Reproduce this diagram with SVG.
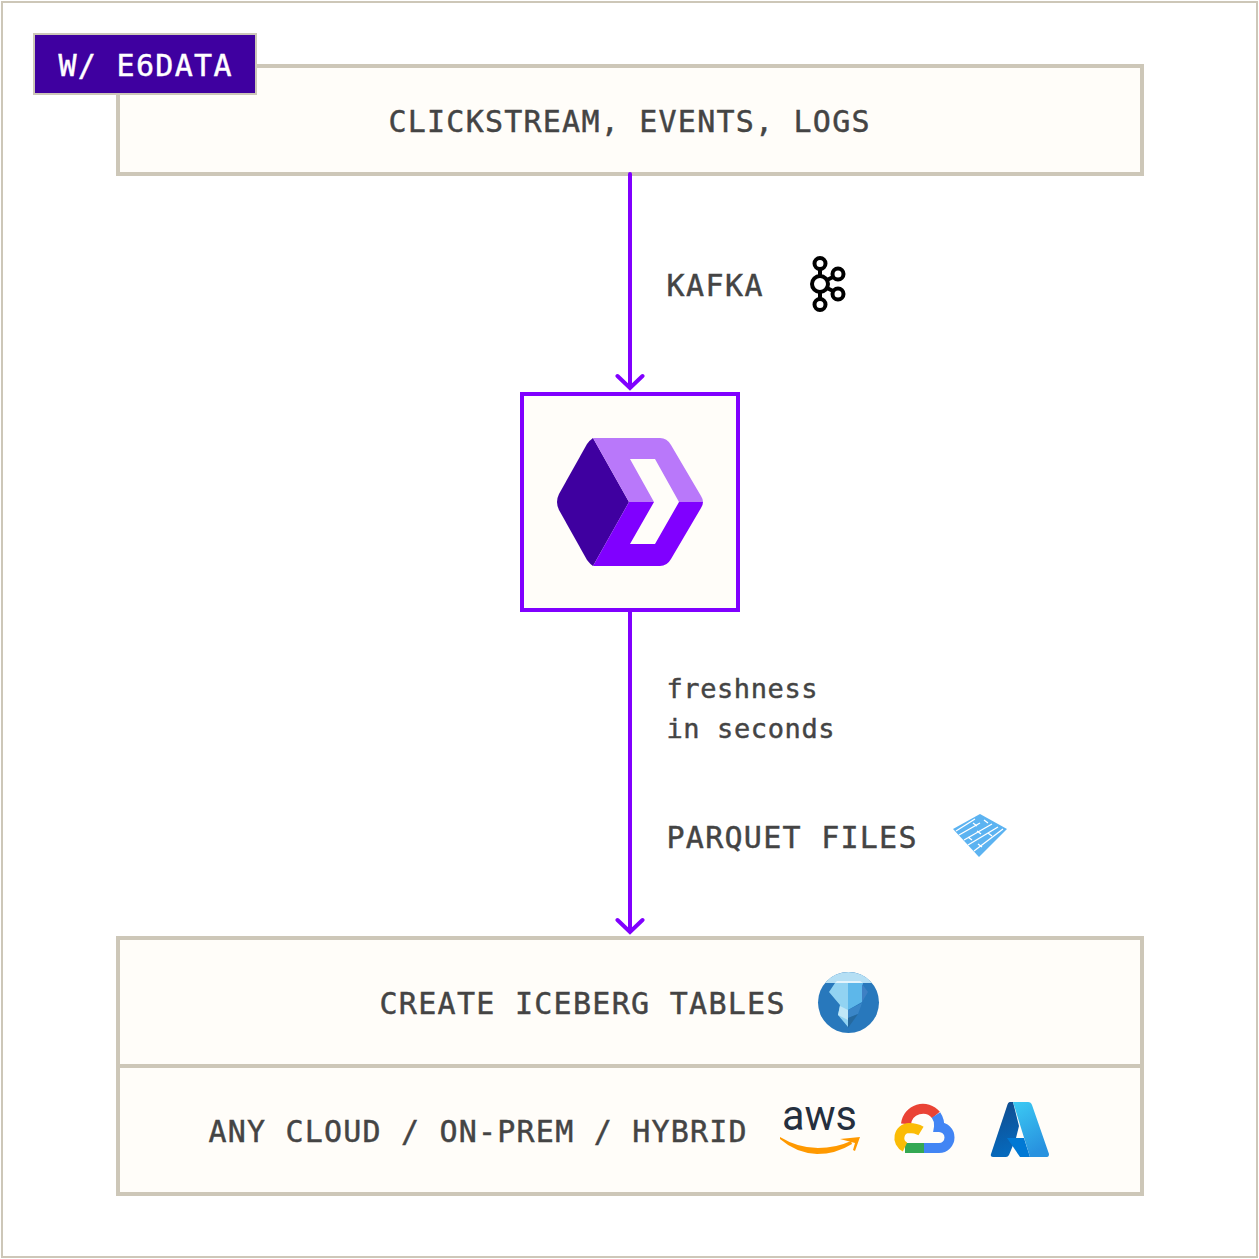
<svg xmlns="http://www.w3.org/2000/svg" width="1259" height="1259" viewBox="0 0 1259 1259">
<style>
.box{fill:#fffdf9;stroke:#cdc7b8;stroke-width:4}
.t{font-family:"DejaVu Sans Mono","Liberation Mono",monospace;fill:#444444;stroke:#444444;stroke-width:.45}
.l{font-size:30px}
.s{font-size:27px}
.w{fill:#fff;stroke:#fff}
.c{fill:none;stroke:#8000ff;stroke-width:4}
.k{fill:none;stroke:#000;stroke-width:4}
</style>
<defs>
<linearGradient id="az1" x1="0" y1="0" x2="0.2" y2="1"><stop offset="0" stop-color="#114a8b"/><stop offset="1" stop-color="#0669bc"/></linearGradient>
<linearGradient id="az2" x1="0" y1="0" x2="0.4" y2="1"><stop offset="0" stop-color="#3ccbf4"/><stop offset="1" stop-color="#2892df"/></linearGradient>
</defs>
<rect width="1259" height="1259" fill="#fff"/>
<rect x="2" y="2" width="1255" height="1255" fill="none" stroke="#cdc7b8" stroke-width="2"/>
<g id="source">
<rect class="box" x="118" y="66" width="1024" height="108"/>
<text class="t l" x="388.500" y="132" textLength="481">CLICKSTREAM, EVENTS, LOGS</text>
</g>
<g id="badge">
<rect x="34" y="34" width="222" height="60" fill="#3f00a0" stroke="#cdc7b8" stroke-width="2"/>
<text class="t l w" x="58.500" y="76" textLength="173">W/ E6DATA</text>
</g>
<g id="kafka-label">
<text class="t l" x="666.500" y="296" textLength="96">KAFKA</text>
<g id="kafka-icon">
<circle class="k" cx="820" cy="263.500" r="5.500"/><circle class="k" cx="820" cy="304.500" r="5.500"/>
<circle class="k" cx="820" cy="284" r="8"/>
<circle class="k" cx="838" cy="274" r="5.500"/><circle class="k" cx="838" cy="294" r="5.500"/>
<path class="k" d="M820 269V276M820 292V299M827 280L833 277M827 288L833 291"/>
</g>
</g>
<g id="e6data">
<rect x="522" y="394" width="216" height="216" fill="#fffdf9" stroke="#8000ff" stroke-width="4"/>
<path fill="#3f00a0" d="M593 438L629 502L593 566Q590 564 587 560L559 510Q555 502 559 494L587 444Q590 440 593 438Z"/>
<path fill="#b978fa" d="M593 438Q596 438 600 438H660Q667 438 671 445L701 496Q703 499 703 502H679L655 459H630L654 502H629Z"/>
<path fill="#8000ff" d="M593 566Q596 566 600 566H660Q667 566 671 559L701 508Q703 505 703 502H679L655 544H630L654 502H629Z"/>
</g>
<g id="freshness">
<text class="t s" x="666.500" y="698" textLength="151">freshness</text>
<text class="t s" x="666.500" y="738" textLength="168">in seconds</text>
</g>
<g id="parquet-label">
<text class="t l" x="666.500" y="848" textLength="250">PARQUET FILES</text>
<g id="parquet-icon">
<path fill="#5cb3f1" d="M953 829L980 814L1007 829L979 857Z"/>
<path stroke="#fff" stroke-width="1.300" fill="none" d="M956 831L975 819M959 835L980 823M964 840L992 824M968 845L998 827M974 851L1003 829M973 823L977 826M984 820L988 823M977 831L981 834M968 837L972 840M988 833L992 836M978 844L982 847"/>
</g>
</g>
<g id="bottom">
<rect class="box" x="118" y="938" width="1024" height="256"/>
<path stroke="#cdc7b8" stroke-width="4" d="M118 1066H1142"/>
</g>
<g id="iceberg">
<text class="t l" x="379.500" y="1014" textLength="405">CREATE ICEBERG TABLES</text>
<g id="iceberg-icon">
<circle cx="848.500" cy="1002.500" r="30.500" fill="#2878bc"/>
<path fill="#b5dff4" d="M825 983A30.500 30.500 0 0 1 872 983Z"/>
<path fill="#e4f4fc" d="M835 983L837 981H860L863 983Z"/>
<path fill="#92d3f2" d="M835 983H848V1027L838 1015L840 1005L829 992Z"/>
<path fill="#5db7ea" d="M848 983H863L862 1002L848 1010Z"/>
<path fill="#3e80c4" d="M862 984L868 992L862 1002Z"/>
<path fill="#3a86c8" d="M848 1010L862 1003L858 1014L848 1018Z"/>
<path fill="#bfe6f7" d="M840 1006L848 1010V1020L838 1015Z"/>
<path fill="#25699f" d="M848 1018L858 1014L848 1028Z"/>
</g>
</g>
<g id="cloud">
<text class="t l" x="208.500" y="1142" textLength="538">ANY CLOUD / ON-PREM / HYBRID</text>
<g id="aws">
<text x="782" y="1130" font-family="Roboto,sans-serif" font-size="43" font-weight="400" fill="#252f3e" textLength="75" lengthAdjust="spacingAndGlyphs">aws</text>
<path fill="#ff9900" d="M780 1137Q798 1148 818 1148Q836 1148 851 1141L852 1144Q836 1154 817 1154Q796 1153 780 1139Z"/>
<path fill="#ff9900" d="M840 1139L860 1137L855 1151L853 1150L855 1143Z"/>
</g>
<g id="gcp" fill="none" stroke-width="10">
<path stroke="#ea4335" d="M906 1124A17 17 0 0 1 936 1115"/>
<path stroke="#4285f4" d="M936 1115Q940 1121 939 1127A10.500 10.500 0 0 1 939 1148H924"/>
<path stroke="#34a853" d="M924 1148H905"/>
<path stroke="#fbbc05" d="M905 1147A10 10 0 0 1 909 1128Q916 1128 921 1131"/>
</g>
<g id="azure">
<path fill="url(#az1)" d="M1010 1102H1013L1019 1126L1016 1138L1009 1155Q1008 1157 1006 1157H993Q990 1157 991 1154L1007 1106Q1008 1102 1010 1102Z"/>
<path fill="#0078d4" d="M1007 1138H1024L1030 1157H1020Z"/>
<path fill="url(#az2)" d="M1013 1102H1028Q1031 1102 1032 1105L1049 1154Q1049 1157 1047 1157H1030Z"/>
</g>
</g>
<g id="connectors">
<path class="c" d="M630 174V387M617.500 376L630 388L642.500 376" stroke-linecap="round"/>
<path class="c" d="M630 612V931M617.500 920L630 932L642.500 920" stroke-linecap="round"/>
</g>
</svg>
